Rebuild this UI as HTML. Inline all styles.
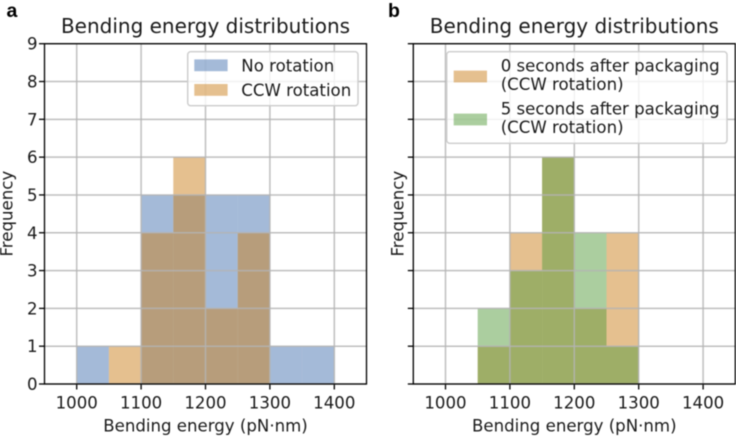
<!DOCTYPE html>
<html lang="en">
<head>
<meta charset="utf-8">
<title>Bending energy distributions</title>
<style>
html,body{margin:0;padding:0;background:#fff;}
body{width:736px;height:439px;overflow:hidden;}
svg{display:block;filter:blur(0.4px);}
text{font-family:"DejaVu Sans","Liberation Sans",sans-serif;fill:#1a1a1a;}
</style>
</head>
<body>
<svg id="figure" xmlns="http://www.w3.org/2000/svg" width="736" height="439" viewBox="0 0 736 439"></svg>
<script>
var binStarts = [1000, 1050, 1100, 1150, 1200, 1250, 1300, 1350];
var binWidth = 50;
var noRotation = [1, 0, 5, 5, 5, 5, 1, 1];
var ccwRotation = [0, 1, 4, 6, 2, 4, 0, 0];
var zeroSeconds = [0, 1, 4, 6, 2, 4, 0, 0];
var fiveSeconds = [0, 2, 3, 6, 4, 1, 0, 0];
var xTicks = [1000, 1100, 1200, 1300, 1400];
var yTicks = [0, 1, 2, 3, 4, 5, 6, 7, 8, 9];

var svg = document.getElementById('figure');
var NS = 'http://www.w3.org/2000/svg';
var BLUE = '#4975b1', ORANGE = '#cb811f', GREEN = '#579d3f';
var FONT = 16.6;

function make(tag, attrs, parent) {
  var el = document.createElementNS(NS, tag);
  for (var k in attrs) el.setAttribute(k, attrs[k]);
  parent.appendChild(el);
  return el;
}

function addText(parent, str, x, y, size, anchor, extra) {
  var attrs = {x: x, y: y, 'font-size': size, 'text-anchor': anchor};
  for (var k in (extra || {})) attrs[k] = extra[k];
  var t = make('text', attrs, parent);
  t.textContent = str;
  return t;
}

function drawPanel(opts) {
  var left = opts.left, right = opts.right, top = 43.7, bottom = 384;
  function xScale(v) { return left + (v - 950) / 500 * (right - left); }
  function yScale(v) { return bottom - v / 9 * (bottom - top); }

  var g = make('g', {}, svg);
  
  

  opts.series.forEach(function (s) {
    var sg = make('g', {}, g);
    
    
    binStarts.forEach(function (b, i) {
      if (!s.values[i]) return;
      var r = make('rect', {
        x: xScale(b),
        y: yScale(s.values[i]),
        width: xScale(b + binWidth) - xScale(b),
        height: yScale(0) - yScale(s.values[i]),
        fill: s.color,
        'fill-opacity': 0.5
      }, sg);
      
      
    });
  });

  xTicks.forEach(function (v) {
    var l = make('line', {x1: xScale(v), x2: xScale(v), y1: top, y2: bottom, stroke: '#b4b4b4', 'stroke-width': 1.5, 'stroke-opacity': 0.85}, g);
    
    
    var tk = make('line', {x1: xScale(v), x2: xScale(v), y1: bottom, y2: bottom + 5.5, stroke: '#000', 'stroke-width': 1.3}, g);
    
    
    var lb = addText(g, String(v), xScale(v), 408.7, FONT, 'middle');
    
    
  });

  yTicks.forEach(function (v) {
    var l = make('line', {x1: left, x2: right, y1: yScale(v), y2: yScale(v), stroke: '#b4b4b4', 'stroke-width': 1.5, 'stroke-opacity': 0.85}, g);
    
    
    var tk = make('line', {x1: left - 5.5, x2: left, y1: yScale(v), y2: yScale(v), stroke: '#000', 'stroke-width': 1.3}, g);
    
    
    if (opts.showYLabels) {
      var lb = addText(g, String(v), left - 7, yScale(v) + 6, FONT, 'end');
      
      
    }
  });

  var frame = make('rect', {x: left, y: top, width: right - left, height: bottom - top, fill: 'none', stroke: '#000', 'stroke-width': 1.3}, g);
  
  

  var title = addText(g, 'Bending energy distributions', (left + right) / 2, 33, 20, 'middle');
  
  

  var xl = addText(g, 'Bending energy (pN\u00B7nm)', (left + right) / 2, 431.3, FONT, 'middle');
  
  

  var yl = addText(g, 'Frequency', 0, 0, FONT, 'middle', {transform: 'translate(' + opts.ylabelX + ',213.7) rotate(-90)'});
  
  

  var pl = addText(g, opts.letter, opts.letterX, 17, 19.5, 'start', {'font-weight': 'bold', style: 'font-family:"Liberation Sans",sans-serif;fill:#000'});
  
  

  var lg = make('g', {}, g);
  
  
  var box = opts.legend;
  var bg = make('rect', {x: box.x, y: box.y, width: box.w, height: box.h, rx: 3, ry: 3, fill: '#fff', 'fill-opacity': 0.8, stroke: '#cccccc', 'stroke-width': 1.4}, lg);
  
  
  box.entries.forEach(function (en) {
    var sw = make('rect', {x: box.patchX, y: en.patchY, width: 33.3, height: 11.8, fill: en.color, 'fill-opacity': 0.5}, lg);
    
    
    en.lines.forEach(function (ln) {
      var t = addText(lg, ln.text, box.textX, ln.y, FONT, 'start');
      
      
    });
  });
}

drawPanel({
  name: 'panel-a', letter: 'a', letterX: 6.5, left: 44.5, right: 366.5, showYLabels: true, ylabelX: 12.5,
  series: [
    {name: 'no-rotation', values: noRotation, color: BLUE},
    {name: 'ccw-rotation', values: ccwRotation, color: ORANGE}
  ],
  legend: {
    x: 187.7, y: 51.7, w: 170.3, h: 54, patchX: 194.3, textX: 241.3,
    entries: [
      {color: BLUE, patchY: 59.4, lines: [{text: 'No rotation', y: 71.4}]},
      {color: ORANGE, patchY: 84, lines: [{text: 'CCW rotation', y: 96}]}
    ]
  }
});

drawPanel({
  name: 'panel-b', letter: 'b', letterX: 388, left: 413.3, right: 735.3, showYLabels: false, ylabelX: 403.5,
  series: [
    {name: 'zero-seconds', values: zeroSeconds, color: ORANGE},
    {name: 'five-seconds', values: fiveSeconds, color: GREEN}
  ],
  legend: {
    x: 446.7, y: 51.7, w: 280.3, h: 91.6, patchX: 453.7, textX: 500.7,
    entries: [
      {color: ORANGE, patchY: 70.6, lines: [{text: '0 seconds after packaging', y: 71.7}, {text: '(CCW rotation)', y: 90}]},
      {color: GREEN, patchY: 113.6, lines: [{text: '5 seconds after packaging', y: 114.4}, {text: '(CCW rotation)', y: 132.8}]}
    ]
  }
});
</script>
</body>
</html>
